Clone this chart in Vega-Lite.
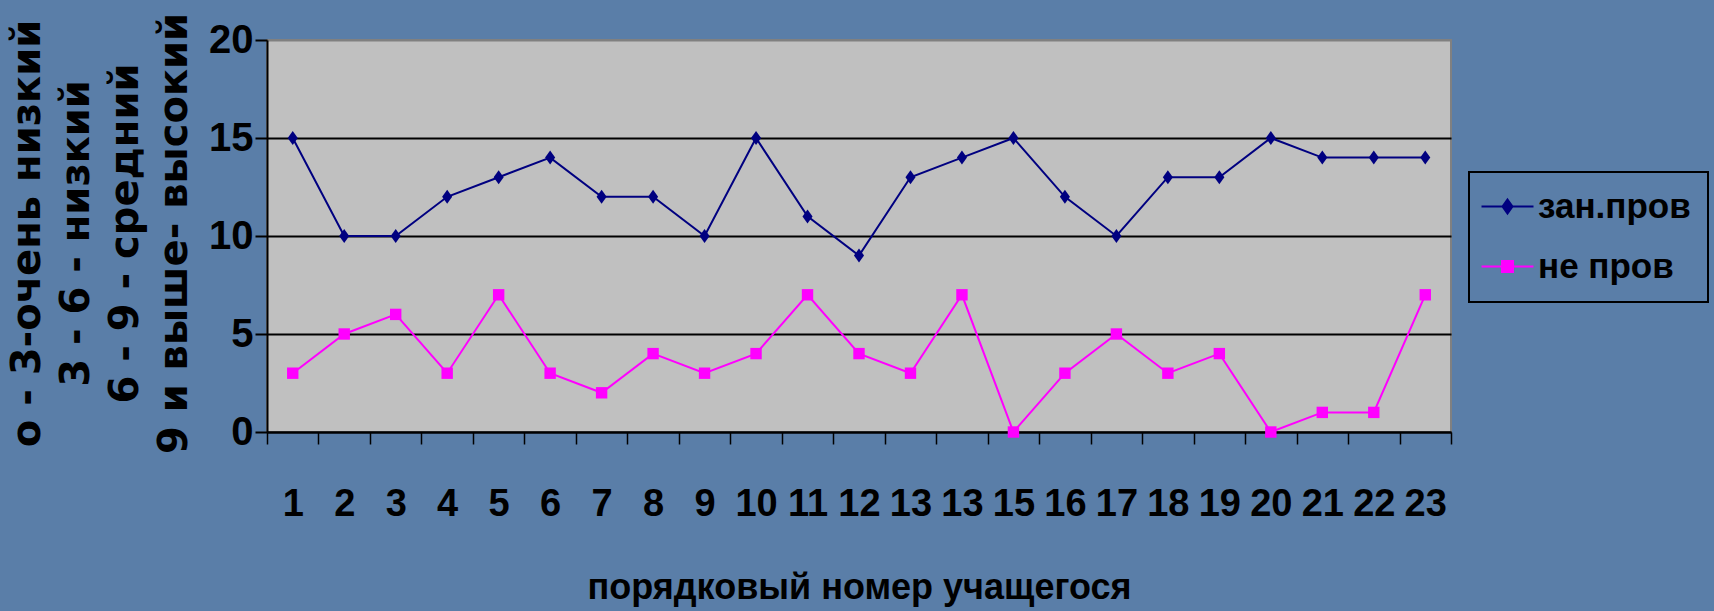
{
  "$schema": "https://vega.github.io/schema/vega-lite/v6.json",
  "width": 1184,
  "height": 392,
  "autosize": {"type": "none"},
  "padding": {"left": 267, "top": 40, "right": 263, "bottom": 179},
  "background": "#5a7ea8",
  "config": {
    "view": {"fill": "#c0c0c0", "stroke": "#808080", "strokeWidth": 2}
  },
  "data": {
    "values": [
      {"n": 1, "series": "зан.пров", "value": 15},
      {"n": 2, "series": "зан.пров", "value": 10},
      {"n": 3, "series": "зан.пров", "value": 10},
      {"n": 4, "series": "зан.пров", "value": 12},
      {"n": 5, "series": "зан.пров", "value": 13},
      {"n": 6, "series": "зан.пров", "value": 14},
      {"n": 7, "series": "зан.пров", "value": 12},
      {"n": 8, "series": "зан.пров", "value": 12},
      {"n": 9, "series": "зан.пров", "value": 10},
      {"n": 10, "series": "зан.пров", "value": 15},
      {"n": 11, "series": "зан.пров", "value": 11},
      {"n": 12, "series": "зан.пров", "value": 9},
      {"n": 13, "series": "зан.пров", "value": 13},
      {"n": 14, "series": "зан.пров", "value": 14},
      {"n": 15, "series": "зан.пров", "value": 15},
      {"n": 16, "series": "зан.пров", "value": 12},
      {"n": 17, "series": "зан.пров", "value": 10},
      {"n": 18, "series": "зан.пров", "value": 13},
      {"n": 19, "series": "зан.пров", "value": 13},
      {"n": 20, "series": "зан.пров", "value": 15},
      {"n": 21, "series": "зан.пров", "value": 14},
      {"n": 22, "series": "зан.пров", "value": 14},
      {"n": 23, "series": "зан.пров", "value": 14},
      {"n": 1, "series": "не пров", "value": 3},
      {"n": 2, "series": "не пров", "value": 5},
      {"n": 3, "series": "не пров", "value": 6},
      {"n": 4, "series": "не пров", "value": 3},
      {"n": 5, "series": "не пров", "value": 7},
      {"n": 6, "series": "не пров", "value": 3},
      {"n": 7, "series": "не пров", "value": 2},
      {"n": 8, "series": "не пров", "value": 4},
      {"n": 9, "series": "не пров", "value": 3},
      {"n": 10, "series": "не пров", "value": 4},
      {"n": 11, "series": "не пров", "value": 7},
      {"n": 12, "series": "не пров", "value": 4},
      {"n": 13, "series": "не пров", "value": 3},
      {"n": 14, "series": "не пров", "value": 7},
      {"n": 15, "series": "не пров", "value": 0},
      {"n": 16, "series": "не пров", "value": 3},
      {"n": 17, "series": "не пров", "value": 5},
      {"n": 18, "series": "не пров", "value": 3},
      {"n": 19, "series": "не пров", "value": 4},
      {"n": 20, "series": "не пров", "value": 0},
      {"n": 21, "series": "не пров", "value": 1},
      {"n": 22, "series": "не пров", "value": 1},
      {"n": 23, "series": "не пров", "value": 7}
    ]
  },
  "encoding": {
    "x": {
      "field": "n",
      "type": "ordinal",
      "scale": {"paddingInner": 0, "paddingOuter": 0},
      "axis": {
        "title": "порядковый номер учащегося",
        "titleFont": "Liberation Sans",
        "titleFontSize": 36,
        "titleFontWeight": "bold",
        "titleColor": "black",
        "titleY": 155,
        "titleBaseline": "middle",
        "labelExpr": "datum.value == 14 ? '13' : datum.value",
        "labelAngle": 0,
        "labelFont": "Liberation Sans",
        "labelFontSize": 38,
        "labelFontWeight": "bold",
        "labelColor": "black",
        "labelBaseline": "top",
        "labelPadding": 41,
        "tickBand": "extent",
        "tickColor": "black",
        "tickWidth": 1.5,
        "tickSize": 12,
        "domainColor": "black",
        "domainWidth": 2,
        "grid": false
      }
    },
    "y": {
      "field": "value",
      "type": "quantitative",
      "scale": {"domain": [0, 20], "nice": false},
      "axis": {
        "values": [0, 5, 10, 15, 20],
        "title": ["о - 3-очень низкий", "3 - 6 - низкий", "6 - 9 - средний", "9 и выше- высокий"],
        "titleFont": "DejaVu Sans",
        "titleFontSize": 40,
        "titleFontWeight": "bold",
        "titleColor": "black",
        "titleAngle": -90,
        "titleAlign": "center",
        "titleBaseline": "top",
        "titleX": -260,
        "titleY": 193,
        "titleLineHeight": 49,
        "labelFont": "Liberation Sans",
        "labelFontSize": 40,
        "labelFontWeight": "bold",
        "labelColor": "black",
        "labelPadding": 2,
        "tickColor": "black",
        "tickWidth": 2,
        "tickSize": 12,
        "domainColor": "black",
        "domainWidth": 2,
        "grid": true,
        "gridColor": {"condition": {"test": "datum.value == 20", "value": "#808080"}, "value": "black"},
        "gridWidth": 2
      }
    }
  },
  "layer": [
    {
      "mark": {"type": "line", "strokeWidth": 2},
      "encoding": {
        "color": {
          "field": "series",
          "type": "nominal",
          "scale": {"domain": ["зан.пров", "не пров"], "range": ["#000080", "#ff00ff"]},
          "legend": {
            "title": null,
            "orient": "none",
            "legendX": 1202,
            "legendY": 132,
            "padding": 17,
            "strokeColor": "black",
            "symbolType": "M-1.733,0H1.733",
            "symbolSize": 900,
            "symbolStrokeWidth": 2,
            "symbolOffset": 4,
            "labelOffset": 13,
            "rowPadding": 24,
            "labelFont": "Liberation Sans",
            "labelFontSize": 35,
            "labelFontWeight": "bold",
            "labelColor": "black",
            "labelLimit": 400,
            "encoding": {
              "legend": {"strokeWidth": {"value": 2}},
              "symbols": {
                "shape": {"value": {"expr": "datum.value === 'зан.пров' ? 'M-1.733,0H1.733M0,-0.467L0.333,0L0,0.467L-0.333,0Z' : 'M-1.733,0H1.733M-0.367,-0.367H0.367V0.367H-0.367Z'"}},
                "fill": {"value": {"expr": "datum.value === 'зан.пров' ? '#000080' : '#ff00ff'"}},
                "stroke": {"value": {"expr": "datum.value === 'зан.пров' ? '#000080' : '#ff00ff'"}},
                "strokeWidth": {"value": 2},
                "opacity": {"value": 1}
              }
            }
          }
        }
      }
    },
    {
      "transform": [{"filter": "datum.series === 'зан.пров'"}],
      "mark": {"type": "point", "filled": true, "opacity": 1, "color": "#000080", "shape": "M0,-1L0.72,0L0,1L-0.72,0Z", "size": 196}
    },
    {
      "transform": [{"filter": "datum.series === 'не пров'"}],
      "mark": {"type": "point", "filled": true, "opacity": 1, "color": "#ff00ff", "shape": "square", "size": 130}
    }
  ]
}
